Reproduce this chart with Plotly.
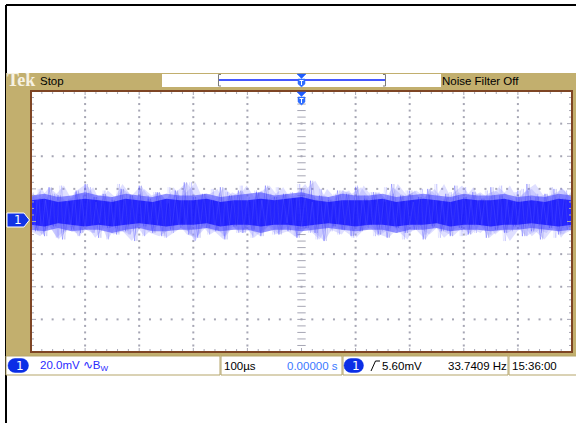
import numpy as np
import plotly.graph_objects as go

W, H = 576, 423

# ---- data (mV vs microseconds) ----
upper_mid = [16, 17, 15, 16, 18, 16, 15, 17, 16, 15, 17, 16, 16, 17, 15, 16, 17, 18, 16, 17, 18,
             16, 15, 17, 16, 16, 17, 15, 16, 17, 16, 15, 17, 16, 16, 17, 15, 16, 15, 17, 16]
lower_mid = [-5, -6, -4, -6, -5, -5, -7, -5, -4, -6, -6, -5, -5, -4, -6, -5, -5, -7, -5, -5, -6,
             -5, -4, -5, -6, -5, -5, -7, -5, -5, -4, -6, -5, -5, -6, -5, -5, -4, -5, -6, -5]
upper_inner = [13, 14, 12, 13, 14, 13, 12, 14, 13, 12, 14, 13, 13, 14, 12, 13, 13, 14, 13, 14, 15,
               13, 12, 13, 13, 13, 14, 12, 13, 14, 13, 12, 14, 13, 13, 14, 12, 13, 12, 14, 13]
lower_inner = [-2, -3, -1, -2, -3, -2, -3, -2, -1, -2, -3, -2, -2, -1, -3, -2, -2, -3, -2, -2, -3,
               -2, -1, -2, -3, -2, -2, -3, -2, -2, -1, -3, -2, -2, -3, -2, -2, -1, -2, -3, -2]
spike_hi = [18, 14, 21, 16, 12, 19, 23, 15, 17, 13, 20, 16, 22, 14, 18, 11, 19, 24, 15, 17,
            13, 21, 16, 19, 12, 18, 22, 15, 17, 14, 20, 25, 16, 13, 19, 17, 21, 14, 18, 12,
            23, 16, 19, 15, 20, 13, 17, 22, 15, 18, 14, 21, 16, 12, 19, 23, 15, 17, 20, 14]
spike_lo = [-6, -9, -3, -11, -5, -7, -2, -10, -4, -8, -6, -12, -3, -7, -9, -5, -1, -8, -10, -4,
            -6, -11, -3, -7, -5, -9, -2, -8, -6, -10, -4, -7, -12, -3, -5, -9, -6, -2, -8, -10,
            -4, -7, -5, -11, -3, -6, -9, -4, -8, -2, -10, -5, -7, -3, -9, -6, -11, -4, -8, -5]
spike_hi2 = [15, 20, 13, 17, 22, 14, 18, 16, 21, 12, 19, 15, 23, 17, 14, 20, 16, 18, 13, 21,
             15, 19, 24, 14, 17, 20, 12, 18, 16, 22, 15, 19, 13, 17, 21, 14, 18, 23, 16, 12,
             20, 15, 17, 19, 13, 22, 16, 18, 14, 21, 17, 15, 19, 12, 20, 16, 23, 14, 18, 15,
             21, 13, 17, 19, 16, 22, 14, 18, 20, 15, 17, 13, 21, 16, 19]
spike_lo2 = [-4, -8, -2, -10, -6, -3, -9, -5, -7, -1, -11, -4, -6, -8, -3, -9, -5, -2, -10, -7,
             -4, -6, -12, -3, -8, -5, -9, -2, -7, -4, -10, -6, -3, -8, -5, -1, -9, -4, -7, -11,
             -3, -6, -8, -2, -10, -5, -4, -9, -6, -3, -7, -11, -2, -5, -8, -4, -10, -6, -3, -9,
             -5, -7, -2, -8, -4, -12, -6, -3, -9, -5, -7, -2, -10, -4, -6]

time_per_div = 100   # us
volts_per_div = 20   # mV
x_div = [-5, -4, -3, -2, -1, 0, 1, 2, 3, 4, 5]
y_div = [-4, -3, -2, -1, 0, 1, 2, 3, 4]

XR = [-500, 500]
YR = [-80, 80]

def px(x):
    return x / W

def py(y):
    return 1 - y / H

fig = go.Figure()

# ---- graticule (drawn beneath the trace) ----
gc = "#a6a6b4"
dx, dy = [], []
for xd in x_div[1:-1]:
    if xd == 0:
        continue
    for k in range(-20, 21):
        dx.append(xd * time_per_div)
        dy.append(k * volts_per_div / 5)
for yd in y_div[1:-1]:
    if yd == 0:
        continue
    for k in range(-25, 26):
        dx.append(k * time_per_div / 5)
        dy.append(yd * volts_per_div)
fig.add_trace(go.Scatter(x=dx, y=dy, mode="markers", marker=dict(symbol="square", size=2, color=gc, line=dict(width=0)),
                         hoverinfo="skip", showlegend=False))

cx = [0] * 41
cy = [k * volts_per_div / 5 for k in range(-20, 21)]
fig.add_trace(go.Scatter(x=cx, y=cy, mode="markers",
                         marker=dict(symbol="line-ew", size=6, line=dict(width=1, color=gc)),
                         hoverinfo="skip", showlegend=False))
hx = [k * time_per_div / 5 for k in range(-25, 26)]
hy = [0] * 51
fig.add_trace(go.Scatter(x=hx, y=hy, mode="markers",
                         marker=dict(symbol="line-ns", size=6, line=dict(width=1, color=gc)),
                         hoverinfo="skip", showlegend=False))

def band(up, lo, color, shift=0.0):
    xs = np.linspace(XR[0], XR[1], len(up))
    if shift:
        st = (XR[1] - XR[0]) / (len(up) - 1)
        xs = np.clip(xs + shift * st, XR[0], XR[1])
    fig.add_trace(go.Scatter(x=xs, y=lo, mode="lines", line=dict(width=0, color=color),
                             hoverinfo="skip", showlegend=False))
    fig.add_trace(go.Scatter(x=xs, y=up, mode="lines", line=dict(width=0, color=color),
                             fill="tonexty", fillcolor=color, hoverinfo="skip", showlegend=False))

def spikes(hi, lo, color, width, shift):
    ys = [v for pair in zip(hi, lo) for v in pair]
    n = len(ys)
    step = (XR[1] - XR[0]) / n
    xs = np.linspace(XR[0] + shift * step, XR[1] - (1 - shift) * step, n)
    fig.add_trace(go.Scatter(x=xs, y=ys, mode="lines", line=dict(width=width, color=color),
                             hoverinfo="skip", showlegend=False))

band(spike_hi, spike_lo, "rgba(150,150,255,0.30)")
band(spike_hi2, spike_lo2, "rgba(150,150,255,0.30)", 0.5)
spikes(spike_hi2, spike_lo2, "rgba(110,110,255,0.40)", 0.6, 0.5)
band(upper_mid, lower_mid, "rgba(75,75,255,0.60)")
spikes(spike_hi, spike_lo, "rgba(60,60,255,0.50)", 0.7, 0.0)
band(upper_inner, lower_inner, "rgba(25,25,255,0.86)")
spikes(spike_hi2, spike_lo2, "rgba(150,150,255,0.30)", 0.5, 0.0)
spikes(spike_hi, spike_lo, "rgba(10,10,200,0.25)", 0.5, 0.5)

fig.update_xaxes(range=XR, domain=[31 / W, 572 / W], showgrid=False, zeroline=False,
                 showticklabels=False, ticks="", showline=False, fixedrange=True)
fig.update_yaxes(range=YR, domain=[py(352), py(91)], showgrid=False, zeroline=False,
                 showticklabels=False, ticks="", showline=False, fixedrange=True)

shapes = []
def rect(x0, y0, x1, y1, fill=None, line=None, lw=0, layer="below"):
    shapes.append(dict(type="rect", xref="paper", yref="paper", x0=px(x0), x1=px(x1), y0=py(y1), y1=py(y0),
                       fillcolor=fill if fill else "rgba(0,0,0,0)",
                       line=dict(width=lw, color=line if line else "rgba(0,0,0,0)"), layer=layer))

def path(pts, fill=None, line=None, lw=1, close=True, layer="above"):
    d = "M " + " L ".join(f"{px(a):.5f},{py(b):.5f}" for a, b in pts)
    if close:
        d += " Z"
    shapes.append(dict(type="path", xref="paper", yref="paper", path=d,
                       fillcolor=fill if fill else "rgba(0,0,0,0)",
                       line=dict(width=lw, color=line if line else "rgba(0,0,0,0)"), layer=layer))

def seg(x0, y0, x1, y1, color, lw=1, layer="above"):
    shapes.append(dict(type="line", xref="paper", yref="paper", x0=px(x0), x1=px(x1), y0=py(y0), y1=py(y1),
                       line=dict(width=lw, color=color), layer=layer))

tan = "#C2AF6E"
seg(6, 5, 576, 5, "black", 2, "below")
seg(6, 5, 6, 423, "black", 2, "below")
rect(6, 73, 576, 356, fill=tan)
rect(31, 91, 572, 352, fill="white")
rect(162, 74, 441, 87, fill="white")
for a, b in [(6, 220), (221, 342), (343, 508), (509, 577)]:
    rect(a, 356, b, 375, fill="white", line="#b5a56a", lw=1)

for k in range(1, 50):
    xx = 31 + k * 541 / 50
    L = 4 if k % 5 == 0 else 3
    seg(xx, 91, xx, 91 + L, gc, 1)
    seg(xx, 352, xx, 352 - L, gc, 1)
for k in range(1, 40):
    yy = 91 + k * 261 / 40
    L = 5 if k % 5 == 0 else 3
    seg(31, yy, 31 + L, yy, gc, 1)
    seg(572, yy, 572 - L, yy, gc, 1)

rect(31, 91, 572, 352, line="#7e4524", lw=2, layer="above")

path([(221, 74.5), (218.5, 74.5), (218.5, 86), (221, 86)], line="#7a7a7a", lw=1, close=False)
path([(383, 74.5), (385.5, 74.5), (385.5, 86), (383, 86)], line="#7a7a7a", lw=1, close=False)
seg(219, 80, 385, 80, "#4457ff", 2)

def trig_marker(yt):
    cxm = 301.5
    path([(cxm - 4.5, yt), (cxm + 4.5, yt), (cxm, yt + 4.5)], fill="#1f5cff", line="#1f5cff", lw=0.5)
    path([(cxm - 3.5, yt + 5), (cxm + 3.5, yt + 5), (cxm + 3.5, yt + 10), (cxm, yt + 13), (cxm - 3.5, yt + 10)],
         fill="#2f6dff", line="#2f6dff", lw=0.5)
    seg(cxm - 2, yt + 6.5, cxm + 2, yt + 6.5, "white", 1)
    seg(cxm, yt + 6.5, cxm, yt + 11, "white", 1)

trig_marker(74)
trig_marker(92)

path([(7, 213), (24, 213), (29.5, 220), (24, 227), (7, 227)], fill="#1233e6", line="white", lw=1)

def pill(x0, x1, y0, y1):
    r = (y1 - y0) / 2
    pts = [(x0 + r, y0), (x1 - r, y0)]
    for t in np.linspace(-np.pi / 2, np.pi / 2, 9):
        pts.append((x1 - r + r * np.cos(t), (y0 + y1) / 2 + r * np.sin(t)))
    pts.append((x0 + r, y1))
    for t in np.linspace(np.pi / 2, 3 * np.pi / 2, 9):
        pts.append((x0 + r + r * np.cos(t), (y0 + y1) / 2 + r * np.sin(t)))
    path(pts, fill="#0b2ee6", line="#0b2ee6", lw=0.5)

pill(8, 28.5, 358.5, 372.5)
pill(344, 363.5, 358.5, 372.5)

path([(371, 371), (375.5, 361), (380, 361)], line="black", lw=1, close=False)

fig.update_layout(shapes=shapes)

sans = "Liberation Sans, Arial, sans-serif"

def label(x, y, text, color="black", size=11.5, anchor="left", family=sans):
    fig.add_annotation(x=px(x), y=py(y), xref="paper", yref="paper", text=text, showarrow=False,
                       xanchor=anchor, yanchor="middle", font=dict(family=family, size=size, color=color),
                       borderpad=0)

label(6, 80, "<b>Tek</b>", color="#f6f1e2", size=18, family="Liberation Serif, DejaVu Serif, serif")
label(38.5, 80.5, "Stop")
label(441, 80.5, "Noise Filter Off")
label(13, 220, "1", color="white", size=12, family="DejaVu Sans, sans-serif")
label(14.5, 365.5, "1", color="white", size=12, family="DejaVu Sans, sans-serif")
label(350.5, 365.5, "1", color="white", size=12, family="DejaVu Sans, sans-serif")
label(39, 365.5, "20.0mV ∿B<sub>W</sub>", color="#2a2aff")
label(223, 365.5, "100µs")
label(339, 365.5, "0.00000 s", color="#3a78ff", anchor="right")
label(381, 365.5, "5.60mV")
label(508, 365.5, "33.7409 Hz", anchor="right")
label(510.5, 365.5, "15:36:00")

fig.update_layout(width=W, height=H, margin=dict(l=0, r=0, t=0, b=0), paper_bgcolor="white",
                  plot_bgcolor="rgba(0,0,0,0)", showlegend=False)

fig.write_html("out.html", config={"displayModeBar": False, "staticPlot": True},
               post_script="document.body.style.margin='0';document.body.style.overflow='hidden';")
